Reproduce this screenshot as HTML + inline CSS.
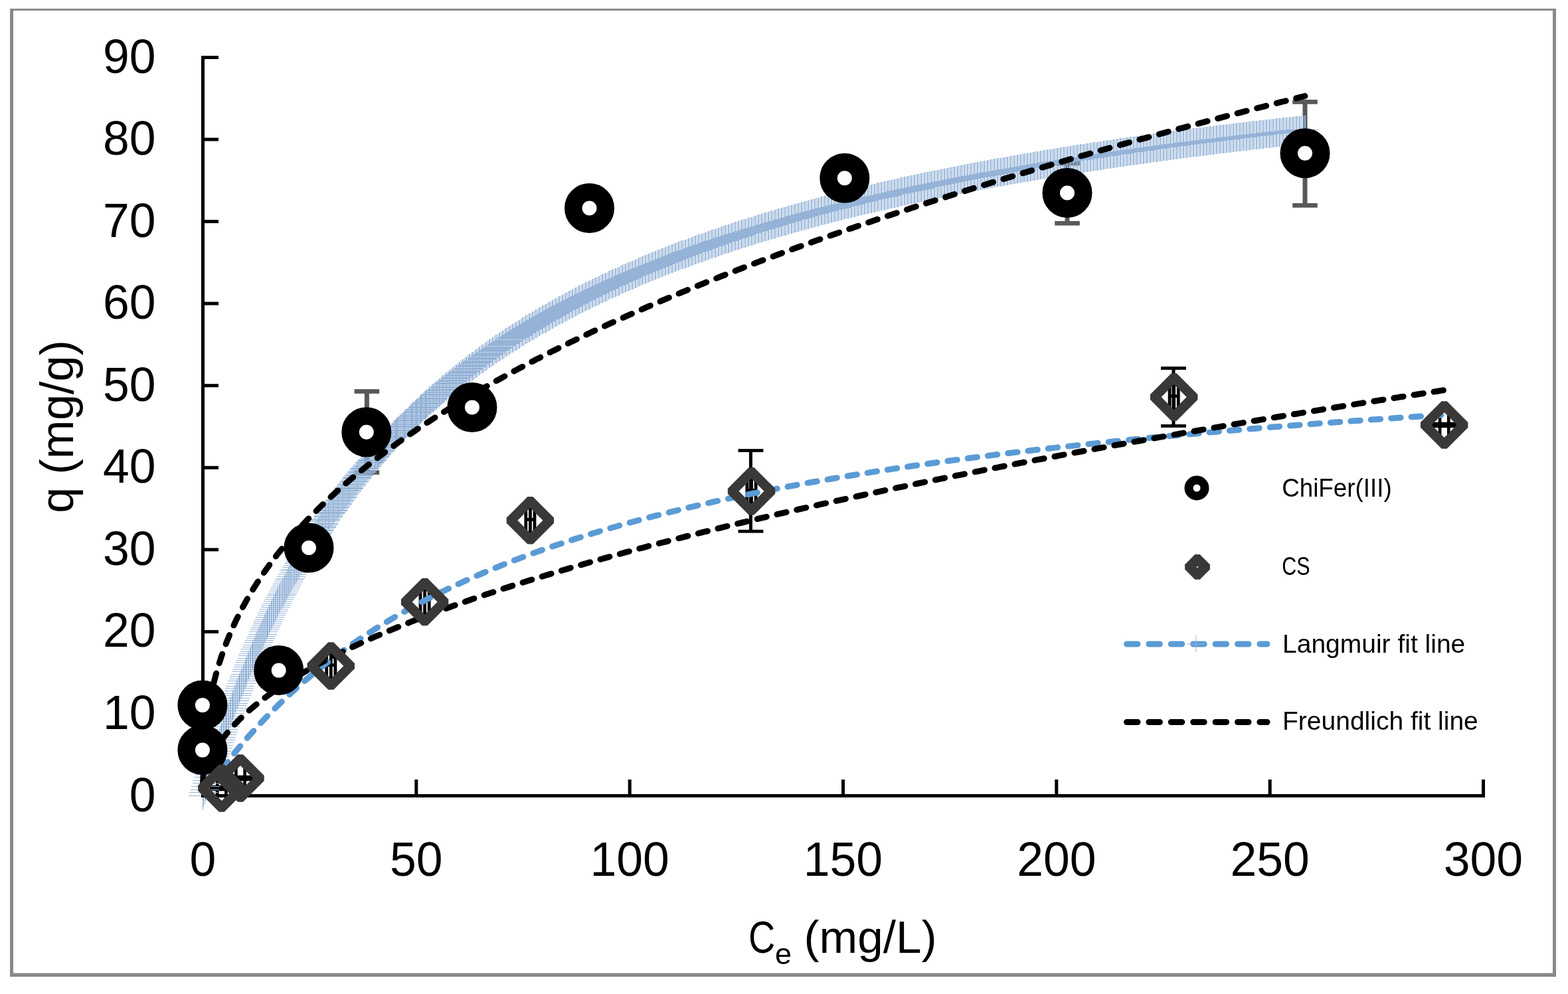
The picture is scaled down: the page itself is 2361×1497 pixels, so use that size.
<!DOCTYPE html>
<html><head><meta charset="utf-8"><title>Adsorption isotherm</title>
<style>html,body{margin:0;padding:0;background:#fff;width:2361px;height:1497px;overflow:hidden}svg{display:block}</style>
</head><body><svg width="2361" height="1497" viewBox="0 0 2361 1497"><rect x="15" y="13" width="2328" height="3" fill="#898989"/><rect x="15" y="13" width="5" height="1458" fill="#898989"/><rect x="2338" y="13" width="5" height="1458" fill="#898989"/><rect x="15" y="1465.5" width="2328" height="5.5" fill="#898989"/><path d="M552.4 589.5V711.5" stroke="#595959" stroke-width="7" fill="none"/><rect x="533.6" y="586.1" width="37.6" height="6.7" fill="#595959"/><rect x="533.6" y="708.1" width="37.6" height="6.7" fill="#595959"/><path d="M1607 246V336.3" stroke="#595959" stroke-width="7" fill="none"/><rect x="1588.2" y="242.7" width="37.6" height="6.7" fill="#595959"/><rect x="1588.2" y="332.9" width="37.6" height="6.7" fill="#595959"/><path d="M1965 153.4V309.4" stroke="#595959" stroke-width="7" fill="none"/><rect x="1946.2" y="150.1" width="37.6" height="6.7" fill="#595959"/><rect x="1946.2" y="306" width="37.6" height="6.7" fill="#595959"/><path d="M1130.4 678.5V800.2" stroke="#000" stroke-width="5" fill="none"/><rect x="1111.5" y="676.1" width="37.9" height="4.8" fill="#000"/><rect x="1111.5" y="797.8" width="37.9" height="4.8" fill="#000"/><path d="M1767 554.5V641.5" stroke="#000" stroke-width="5" fill="none"/><rect x="1748" y="552.1" width="37.9" height="4.8" fill="#000"/><rect x="1748" y="639.1" width="37.9" height="4.8" fill="#000"/><path d="M314.8 1187H352.8" stroke="#000" stroke-width="8.5" fill="none"/><path d="M327.2 1168V1206M340.4 1168V1206" stroke="#000" stroke-width="4.6" fill="none"/><path d="M343 1172H381" stroke="#000" stroke-width="8.5" fill="none"/><path d="M355.4 1153V1191M368.6 1153V1191" stroke="#000" stroke-width="4.6" fill="none"/><path d="M491.7 1001.6H504.9M491.7 984V1022M504.9 984V1022M498.3 984V1022" stroke="#000" stroke-width="4.8" fill="none"/><path d="M633 905.1H646.2M633 887.5V925.5M646.2 887.5V925.5M639.6 887.5V925.5" stroke="#000" stroke-width="4.8" fill="none"/><path d="M791.8 782.4H805M791.8 764.8V802.8M805 764.8V802.8M798.4 764.8V802.8" stroke="#000" stroke-width="4.8" fill="none"/><path d="M1124.9 738.3H1138.1M1124.9 720.7V758.7M1138.1 720.7V758.7M1131.5 720.7V758.7" stroke="#000" stroke-width="4.8" fill="none"/><path d="M1761.1 596.6H1774.3M1761.1 579V617M1774.3 579V617M1767.7 579V617" stroke="#000" stroke-width="4.8" fill="none"/><path d="M2155.7 640H2193.7" stroke="#000" stroke-width="8.5" fill="none"/><path d="M2168.1 621V659M2181.3 621V659" stroke="#000" stroke-width="4.6" fill="none"/><path d="M305 1177h1v43h-1zM306 1172h1v43h-1zM308 1168h1v43h-1zM309 1163h1v43h-1zM311 1158h1v43h-1zM312 1154h1v43h-1zM313 1149h1v43h-1zM315 1145h1v43h-1zM316 1140h1v43h-1zM318 1136h1v43h-1zM319 1131h1v43h-1zM320 1127h1v43h-1zM322 1123h1v43h-1zM323 1118h1v43h-1zM325 1114h1v43h-1zM326 1110h1v43h-1zM327 1105h1v43h-1zM329 1101h1v43h-1zM330 1097h1v43h-1zM332 1093h1v43h-1zM333 1089h1v43h-1zM334 1085h1v43h-1zM336 1081h1v43h-1zM337 1077h1v43h-1zM339 1073h1v43h-1zM340 1069h1v43h-1zM341 1065h1v43h-1zM343 1061h1v43h-1zM344 1057h1v43h-1zM346 1053h1v43h-1zM347 1049h1v43h-1zM349 1045h1v43h-1zM350 1041h1v43h-1zM351 1038h1v43h-1zM353 1034h1v43h-1zM354 1030h1v43h-1zM356 1026h1v43h-1zM357 1023h1v43h-1zM359 1019h1v43h-1zM360 1015h1v43h-1zM361 1012h1v43h-1zM363 1008h1v43h-1zM364 1004h1v43h-1zM366 1001h1v43h-1zM367 997h1v43h-1zM369 994h1v43h-1zM370 990h1v43h-1zM371 987h1v43h-1zM373 983h1v43h-1zM374 980h1v43h-1zM376 976h1v43h-1zM377 973h1v43h-1zM379 970h1v43h-1zM380 966h1v43h-1zM381 963h1v43h-1zM383 960h1v43h-1zM384 956h1v43h-1zM386 953h1v43h-1zM387 950h1v43h-1zM389 946h1v43h-1zM390 943h1v43h-1zM392 940h1v43h-1zM393 937h1v43h-1zM395 934h1v43h-1zM396 930h1v43h-1zM398 927h1v43h-1zM399 924h1v43h-1zM401 921h1v43h-1zM402 918h1v43h-1zM403 915h1v43h-1zM405 912h1v43h-1zM406 908h1v43h-1zM408 905h1v43h-1zM409 902h1v43h-1zM411 899h1v43h-1zM412 896h1v43h-1zM414 893h1v43h-1zM415 890h1v43h-1zM417 887h1v43h-1zM418 884h1v43h-1zM420 881h1v43h-1zM421 878h1v43h-1zM423 875h1v43h-1zM425 873h1v43h-1zM426 870h1v43h-1zM428 867h1v43h-1zM429 864h1v43h-1zM431 861h1v43h-1zM432 858h1v43h-1zM434 855h1v43h-1zM435 852h1v43h-1zM437 850h1v43h-1zM438 847h1v43h-1zM440 844h1v43h-1zM442 841h1v43h-1zM443 838h1v43h-1zM445 836h1v43h-1zM446 833h1v43h-1zM448 830h1v43h-1zM449 827h1v43h-1zM451 825h1v43h-1zM453 822h1v43h-1zM454 819h1v43h-1zM456 817h1v43h-1zM457 814h1v43h-1zM459 811h1v43h-1zM461 809h1v43h-1zM462 806h1v43h-1zM464 803h1v43h-1zM465 801h1v43h-1zM467 798h1v43h-1zM469 795h1v43h-1zM470 793h1v43h-1zM472 790h1v43h-1zM474 787h1v43h-1zM475 785h1v43h-1zM477 782h1v43h-1zM479 780h1v43h-1zM480 777h1v43h-1zM482 775h1v43h-1zM484 772h1v43h-1zM485 770h1v43h-1zM487 767h1v43h-1zM489 764h1v43h-1zM490 762h1v43h-1zM492 759h1v43h-1zM494 757h1v43h-1zM495 754h1v43h-1zM497 752h1v43h-1zM499 750h1v43h-1zM501 747h1v43h-1zM502 745h1v43h-1zM504 742h1v43h-1zM506 740h1v43h-1zM508 737h1v43h-1zM509 735h1v43h-1zM511 732h1v43h-1zM513 730h1v43h-1zM515 727h1v43h-1zM516 725h1v43h-1zM518 723h1v43h-1zM520 720h1v43h-1zM522 718h1v43h-1zM524 715h1v43h-1zM525 713h1v43h-1zM527 711h1v43h-1zM529 708h1v43h-1zM531 706h1v43h-1zM533 704h1v43h-1zM535 701h1v43h-1zM537 699h1v43h-1zM538 697h1v43h-1zM540 694h1v43h-1zM542 692h1v43h-1zM544 690h1v43h-1zM546 687h1v43h-1zM548 685h1v43h-1zM550 683h1v43h-1zM552 680h1v43h-1zM554 678h1v43h-1zM556 676h1v43h-1zM558 673h1v43h-1zM560 671h1v43h-1zM562 669h1v43h-1zM564 667h1v43h-1zM565 664h1v43h-1zM567 662h2v43h-2zM569 660h2v43h-2zM571 657h2v43h-2zM573 655h2v43h-2zM575 653h2v43h-2zM577 651h2v43h-2zM579 648h2v43h-2zM581 646h2v43h-2zM584 644h1v43h-1zM586 642h1v43h-1zM588 640h1v43h-1zM590 637h1v43h-1zM592 635h1v43h-1zM594 633h2v43h-2zM596 631h2v43h-2zM598 628h2v43h-2zM601 626h1v43h-1zM603 624h1v43h-1zM605 622h1v43h-1zM607 620h2v43h-2zM609 617h2v43h-2zM612 615h1v43h-1zM614 613h1v43h-1zM616 611h1v43h-1zM618 609h2v43h-2zM620 606h2v43h-2zM623 604h1v43h-1zM625 602h2v43h-2zM627 600h2v43h-2zM630 598h1v43h-1zM632 595h2v43h-2zM634 593h2v43h-2zM637 591h1v43h-1zM639 589h2v43h-2zM641 587h2v43h-2zM644 585h1v43h-1zM646 582h2v43h-2zM649 580h1v43h-1zM651 578h2v43h-2zM654 576h1v43h-1zM656 574h2v43h-2zM659 572h1v43h-1zM661 570h2v43h-2zM664 567h1v43h-1zM666 565h2v43h-2zM669 563h1v43h-1zM671 561h2v43h-2zM674 559h1v43h-1zM676 557h2v43h-2zM679 555h1v43h-1zM681 553h2v43h-2zM684 551h1v43h-1zM686 549h2v43h-2zM689 547h1v43h-1zM691 545h2v43h-2zM694 543h1v43h-1zM696 541h2v43h-2zM699 539h1v43h-1zM701 537h2v43h-2zM704 535h1v43h-1zM706 533h2v43h-2zM709 531h1v43h-1zM711 530h2v43h-2zM714 528h1v43h-1zM716 526h2v43h-2zM719 524h1v43h-1zM721 522h2v43h-2zM724 520h1v43h-1zM726 519h2v43h-2zM729 517h1v43h-1zM731 515h2v43h-2zM734 513h1v43h-1zM736 511h2v43h-2zM739 510h1v43h-1zM741 508h2v43h-2zM744 506h1v43h-1zM746 504h2v43h-2zM749 503h1v43h-1zM751 501h2v43h-2zM754 499h1v43h-1zM756 498h2v43h-2zM759 496h1v43h-1zM761 494h2v43h-2zM764 493h1v43h-1zM766 491h2v43h-2zM769 489h1v43h-1zM771 488h2v43h-2zM774 486h1v43h-1zM776 485h2v43h-2zM779 483h1v43h-1zM781 482h2v43h-2zM784 480h1v43h-1zM786 478h2v43h-2zM789 477h1v43h-1zM791 475h2v43h-2zM794 474h1v43h-1zM796 472h2v43h-2zM799 471h1v43h-1zM801 469h2v43h-2zM804 468h1v43h-1zM806 466h2v43h-2zM809 465h1v43h-1zM811 463h2v43h-2zM814 462h1v43h-1zM816 460h2v43h-2zM819 459h1v43h-1zM821 458h2v43h-2zM824 456h1v43h-1zM826 455h2v43h-2zM829 453h1v43h-1zM831 452h2v43h-2zM834 450h1v43h-1zM836 449h2v43h-2zM839 448h1v43h-1zM841 446h2v43h-2zM844 445h1v43h-1zM846 444h2v43h-2zM849 442h1v43h-1zM851 441h2v43h-2zM854 440h1v43h-1zM856 438h2v43h-2zM859 437h1v43h-1zM861 436h2v43h-2zM864 434h1v43h-1zM866 433h2v43h-2zM869 432h1v43h-1zM871 430h2v43h-2zM874 429h1v43h-1zM876 428h2v43h-2zM879 427h1v43h-1zM881 425h2v43h-2zM884 424h1v43h-1zM886 423h2v43h-2zM889 422h1v43h-1zM891 420h2v43h-2zM894 419h1v43h-1zM896 418h2v43h-2zM899 417h1v43h-1zM901 416h2v43h-2zM904 414h1v43h-1zM906 413h2v43h-2zM909 412h1v43h-1zM911 411h2v43h-2zM914 410h1v43h-1zM916 408h2v43h-2zM919 407h1v43h-1zM921 406h2v43h-2zM924 405h1v43h-1zM926 404h2v43h-2zM929 403h1v43h-1zM931 402h2v43h-2zM934 400h1v43h-1zM936 399h2v43h-2zM939 398h1v43h-1zM941 397h2v43h-2zM944 396h1v43h-1zM946 395h2v43h-2zM949 394h1v43h-1zM951 393h2v43h-2zM954 392h1v43h-1zM956 391h2v43h-2zM959 390h1v43h-1zM961 388h2v43h-2zM964 387h1v43h-1zM966 386h2v43h-2zM969 385h1v43h-1zM971 384h2v43h-2zM974 383h1v43h-1zM976 382h2v43h-2zM979 381h1v43h-1zM981 380h2v43h-2zM984 379h1v43h-1zM986 378h2v43h-2zM989 377h1v43h-1zM991 376h2v43h-2zM994 375h1v43h-1zM996 374h2v43h-2zM999 373h1v43h-1zM1001 372h2v43h-2zM1004 371h1v43h-1zM1006 370h2v43h-2zM1009 369h1v43h-1zM1011 368h2v43h-2zM1014 367h1v43h-1zM1016 366h2v43h-2zM1019 365h1v43h-1zM1021 364h2v43h-2zM1024 363h1v43h-1zM1026 362h2v43h-2zM1029 362h1v43h-1zM1031 361h2v43h-2zM1034 360h1v43h-1zM1036 359h2v43h-2zM1039 358h1v43h-1zM1041 357h2v43h-2zM1044 356h1v43h-1zM1046 355h2v43h-2zM1049 354h1v43h-1zM1051 353h2v43h-2zM1054 352h1v43h-1zM1056 352h2v43h-2zM1059 351h1v43h-1zM1061 350h2v43h-2zM1064 349h1v43h-1zM1066 348h2v43h-2zM1069 347h1v43h-1zM1071 346h2v43h-2zM1074 345h1v43h-1zM1076 345h2v43h-2zM1079 344h1v43h-1zM1081 343h2v43h-2zM1084 342h1v43h-1zM1086 341h2v43h-2zM1089 340h1v43h-1zM1091 339h2v43h-2zM1094 339h1v43h-1zM1096 338h2v43h-2zM1099 337h1v43h-1zM1101 336h2v43h-2zM1104 335h1v43h-1zM1106 334h2v43h-2zM1109 334h1v43h-1zM1111 333h2v43h-2zM1114 332h1v43h-1zM1116 331h2v43h-2zM1119 330h1v43h-1zM1121 330h2v43h-2zM1124 329h1v43h-1zM1126 328h2v43h-2zM1129 327h1v43h-1zM1131 327h2v43h-2zM1134 326h1v43h-1zM1136 325h2v43h-2zM1139 324h1v43h-1zM1141 323h2v43h-2zM1144 323h1v43h-1zM1146 322h2v43h-2zM1149 321h1v43h-1zM1151 320h2v43h-2zM1154 320h1v43h-1zM1156 319h2v43h-2zM1159 318h1v43h-1zM1161 317h2v43h-2zM1164 317h1v43h-1zM1166 316h2v43h-2zM1169 315h1v43h-1zM1171 314h2v43h-2zM1174 314h1v43h-1zM1176 313h2v43h-2zM1179 312h1v43h-1zM1181 312h2v43h-2zM1184 311h1v43h-1zM1186 310h2v43h-2zM1189 309h1v43h-1zM1191 309h2v43h-2zM1194 308h1v43h-1zM1196 307h2v43h-2zM1199 307h1v43h-1zM1201 306h2v43h-2zM1204 305h1v43h-1zM1206 304h2v43h-2zM1209 304h1v43h-1zM1211 303h2v43h-2zM1214 302h1v43h-1zM1216 302h2v43h-2zM1219 301h1v43h-1zM1221 300h2v43h-2zM1224 300h1v43h-1zM1226 299h2v43h-2zM1229 298h1v43h-1zM1231 298h2v43h-2zM1234 297h1v43h-1zM1236 296h2v43h-2zM1239 296h1v43h-1zM1241 295h2v43h-2zM1244 294h1v43h-1zM1246 294h2v43h-2zM1249 293h1v43h-1zM1251 292h2v43h-2zM1254 292h1v43h-1zM1256 291h2v43h-2zM1259 291h1v43h-1zM1261 290h2v43h-2zM1264 289h1v43h-1zM1266 289h2v43h-2zM1269 288h1v43h-1zM1271 287h2v43h-2zM1274 287h1v43h-1zM1276 286h2v43h-2zM1279 286h1v43h-1zM1281 285h2v43h-2zM1284 284h1v43h-1zM1286 284h2v43h-2zM1289 283h1v43h-1zM1291 282h2v43h-2zM1294 282h1v43h-1zM1296 281h2v43h-2zM1299 281h1v43h-1zM1301 280h2v43h-2zM1304 279h1v43h-1zM1306 279h2v43h-2zM1309 278h1v43h-1zM1311 278h2v43h-2zM1314 277h1v43h-1zM1316 277h2v43h-2zM1319 276h1v43h-1zM1321 275h2v43h-2zM1324 275h1v43h-1zM1326 274h2v43h-2zM1329 274h1v43h-1zM1331 273h2v43h-2zM1334 273h1v43h-1zM1336 272h2v43h-2zM1339 271h1v43h-1zM1341 271h2v43h-2zM1344 270h1v43h-1zM1346 270h2v43h-2zM1349 269h1v43h-1zM1351 269h2v43h-2zM1354 268h1v43h-1zM1356 267h2v43h-2zM1359 267h1v43h-1zM1361 266h2v43h-2zM1364 266h1v43h-1zM1366 265h2v43h-2zM1369 265h1v43h-1zM1371 264h2v43h-2zM1374 264h1v43h-1zM1376 263h2v43h-2zM1379 263h1v43h-1zM1381 262h2v43h-2zM1384 262h1v43h-1zM1386 261h2v43h-2zM1389 260h1v43h-1zM1391 260h2v43h-2zM1394 259h1v43h-1zM1396 259h2v43h-2zM1399 258h1v43h-1zM1401 258h2v43h-2zM1404 257h1v43h-1zM1406 257h2v43h-2zM1409 256h1v43h-1zM1411 256h2v43h-2zM1414 255h1v43h-1zM1416 255h2v43h-2zM1419 254h1v43h-1zM1421 254h2v43h-2zM1424 253h1v43h-1zM1426 253h2v43h-2zM1429 252h1v43h-1zM1431 252h2v43h-2zM1434 251h1v43h-1zM1436 251h2v43h-2zM1439 250h1v43h-1zM1441 250h2v43h-2zM1444 249h1v43h-1zM1446 249h2v43h-2zM1449 248h1v43h-1zM1451 248h2v43h-2zM1454 247h1v43h-1zM1456 247h2v43h-2zM1459 246h1v43h-1zM1461 246h2v43h-2zM1464 245h1v43h-1zM1466 245h2v43h-2zM1469 244h1v43h-1zM1471 244h2v43h-2zM1474 244h1v43h-1zM1476 243h2v43h-2zM1479 243h1v43h-1zM1481 242h2v43h-2zM1484 242h1v43h-1zM1486 241h2v43h-2zM1489 241h1v43h-1zM1491 240h2v43h-2zM1494 240h1v43h-1zM1496 239h2v43h-2zM1499 239h1v43h-1zM1501 238h2v43h-2zM1504 238h1v43h-1zM1506 238h2v43h-2zM1509 237h1v43h-1zM1511 237h2v43h-2zM1514 236h1v43h-1zM1516 236h2v43h-2zM1519 235h1v43h-1zM1521 235h2v43h-2zM1524 234h1v43h-1zM1526 234h2v43h-2zM1529 234h1v43h-1zM1531 233h2v43h-2zM1534 233h1v43h-1zM1536 232h2v43h-2zM1539 232h1v43h-1zM1541 231h2v43h-2zM1544 231h1v43h-1zM1546 231h2v43h-2zM1549 230h1v43h-1zM1551 230h2v43h-2zM1554 229h1v43h-1zM1556 229h2v43h-2zM1559 228h1v43h-1zM1561 228h2v43h-2zM1564 228h1v43h-1zM1566 227h2v43h-2zM1569 227h1v43h-1zM1571 226h2v43h-2zM1574 226h1v43h-1zM1576 225h2v43h-2zM1579 225h1v43h-1zM1581 225h2v43h-2zM1584 224h1v43h-1zM1586 224h2v43h-2zM1589 223h1v43h-1zM1591 223h2v43h-2zM1594 223h1v43h-1zM1596 222h2v43h-2zM1599 222h1v43h-1zM1601 221h2v43h-2zM1604 221h1v43h-1zM1606 221h2v43h-2zM1609 220h1v43h-1zM1611 220h2v43h-2zM1614 219h1v43h-1zM1616 219h2v43h-2zM1619 219h1v43h-1zM1621 218h2v43h-2zM1624 218h1v43h-1zM1626 217h2v43h-2zM1629 217h1v43h-1zM1631 217h2v43h-2zM1634 216h1v43h-1zM1636 216h2v43h-2zM1639 216h1v43h-1zM1641 215h2v43h-2zM1644 215h1v43h-1zM1646 214h2v43h-2zM1649 214h1v43h-1zM1651 214h2v43h-2zM1654 213h1v43h-1zM1656 213h2v43h-2zM1659 213h1v43h-1zM1661 212h2v43h-2zM1664 212h1v43h-1zM1666 211h2v43h-2zM1669 211h1v43h-1zM1671 211h2v43h-2zM1674 210h1v43h-1zM1676 210h2v43h-2zM1679 210h1v43h-1zM1681 209h2v43h-2zM1684 209h1v43h-1zM1686 208h2v43h-2zM1689 208h1v43h-1zM1691 208h2v43h-2zM1694 207h1v43h-1zM1696 207h2v43h-2zM1699 207h1v43h-1zM1701 206h2v43h-2zM1704 206h1v43h-1zM1706 206h2v43h-2zM1709 205h1v43h-1zM1711 205h2v43h-2zM1714 205h1v43h-1zM1716 204h2v43h-2zM1719 204h1v43h-1zM1721 204h2v43h-2zM1724 203h1v43h-1zM1726 203h2v43h-2zM1729 202h1v43h-1zM1731 202h2v43h-2zM1734 202h1v43h-1zM1736 201h2v43h-2zM1739 201h1v43h-1zM1741 201h2v43h-2zM1744 200h1v43h-1zM1746 200h2v43h-2zM1749 200h1v43h-1zM1751 199h2v43h-2zM1754 199h1v43h-1zM1756 199h2v43h-2zM1759 198h1v43h-1zM1761 198h2v43h-2zM1764 198h1v43h-1zM1766 197h2v43h-2zM1769 197h1v43h-1zM1771 197h2v43h-2zM1774 196h1v43h-1zM1776 196h2v43h-2zM1779 196h1v43h-1zM1781 195h2v43h-2zM1784 195h1v43h-1zM1786 195h2v43h-2zM1789 194h1v43h-1zM1791 194h2v43h-2zM1794 194h1v43h-1zM1796 193h2v43h-2zM1799 193h1v43h-1zM1801 193h2v43h-2zM1804 193h1v43h-1zM1806 192h2v43h-2zM1809 192h1v43h-1zM1811 192h2v43h-2zM1814 191h1v43h-1zM1816 191h2v43h-2zM1819 191h1v43h-1zM1821 190h2v43h-2zM1824 190h1v43h-1zM1826 190h2v43h-2zM1829 189h1v43h-1zM1831 189h2v43h-2zM1834 189h1v43h-1zM1836 188h2v43h-2zM1839 188h1v43h-1zM1841 188h2v43h-2zM1844 188h1v43h-1zM1846 187h2v43h-2zM1849 187h1v43h-1zM1851 187h2v43h-2zM1854 186h1v43h-1zM1856 186h2v43h-2zM1859 186h1v43h-1zM1861 185h2v43h-2zM1864 185h1v43h-1zM1866 185h2v43h-2zM1869 185h1v43h-1zM1871 184h2v43h-2zM1874 184h1v43h-1zM1876 184h2v43h-2zM1879 183h1v43h-1zM1881 183h2v43h-2zM1884 183h1v43h-1zM1886 182h2v43h-2zM1889 182h1v43h-1zM1891 182h2v43h-2zM1894 182h1v43h-1zM1896 181h2v43h-2zM1899 181h1v43h-1zM1901 181h2v43h-2zM1904 180h1v43h-1zM1906 180h2v43h-2zM1909 180h1v43h-1zM1911 180h2v43h-2zM1914 179h1v43h-1zM1916 179h2v43h-2zM1919 179h1v43h-1zM1921 178h2v43h-2zM1924 178h1v43h-1zM1926 178h2v43h-2zM1929 178h1v43h-1zM1931 177h2v43h-2zM1934 177h1v43h-1zM1936 177h2v43h-2zM1939 177h1v43h-1zM1941 176h2v43h-2zM1944 176h1v43h-1zM1946 176h2v43h-2zM1949 175h1v43h-1zM1951 175h2v43h-2zM1954 175h1v43h-1zM1956 175h2v43h-2zM1959 174h1v43h-1zM1961 174h2v43h-2zM1964 174h1v43h-1zM1964 174h2v43h-2zM284 1198h43v1h-43zM285 1193h43v1h-43zM287 1189h43v1h-43zM288 1184h43v1h-43zM290 1179h43v1h-43zM291 1175h43v1h-43zM292 1170h43v1h-43zM294 1166h43v1h-43zM295 1161h43v1h-43zM297 1157h43v1h-43zM298 1152h43v1h-43zM299 1148h43v1h-43zM301 1144h43v1h-43zM302 1139h43v1h-43zM304 1135h43v1h-43zM305 1131h43v1h-43zM306 1126h43v1h-43zM308 1122h43v1h-43zM309 1118h43v1h-43zM311 1114h43v1h-43zM312 1110h43v1h-43zM313 1106h43v1h-43zM315 1102h43v1h-43zM316 1098h43v1h-43zM318 1094h43v1h-43zM319 1090h43v1h-43zM320 1086h43v1h-43zM322 1082h43v1h-43zM323 1078h43v1h-43zM325 1074h43v1h-43zM326 1070h43v1h-43zM328 1066h43v1h-43zM329 1062h43v1h-43zM330 1059h43v1h-43zM332 1055h43v1h-43zM333 1051h43v1h-43zM335 1047h43v1h-43zM336 1044h43v1h-43zM338 1040h43v1h-43zM339 1036h43v1h-43zM340 1033h43v1h-43zM342 1029h43v1h-43zM343 1025h43v1h-43zM345 1022h43v1h-43zM346 1018h43v1h-43zM348 1015h43v1h-43zM349 1011h43v1h-43zM350 1008h43v1h-43zM352 1004h43v1h-43zM353 1001h43v1h-43zM355 997h43v1h-43zM356 994h43v1h-43zM358 991h43v1h-43zM359 987h43v1h-43zM360 984h43v1h-43zM362 981h43v1h-43zM363 977h43v1h-43zM365 974h43v1h-43zM366 971h43v1h-43zM368 967h43v1h-43zM369 964h43v1h-43zM371 961h43v1h-43zM372 958h43v1h-43zM374 955h43v1h-43zM375 951h43v1h-43zM377 948h43v1h-43zM378 945h43v1h-43zM380 942h43v1h-43zM381 939h43v1h-43zM382 936h43v1h-43zM384 933h43v1h-43zM385 929h43v1h-43zM387 926h43v1h-43zM388 923h43v1h-43zM390 920h43v1h-43zM391 917h43v1h-43zM393 914h43v1h-43zM394 911h43v1h-43zM396 908h43v1h-43zM397 905h43v1h-43zM399 902h43v1h-43zM400 899h43v1h-43zM402 896h43v1h-43zM404 894h43v1h-43zM405 891h43v1h-43zM407 888h43v1h-43zM408 885h43v1h-43zM410 882h43v1h-43zM411 879h43v1h-43zM413 876h43v1h-43zM414 873h43v1h-43zM416 871h43v1h-43zM417 868h43v1h-43zM419 865h43v1h-43zM421 862h43v1h-43zM422 859h43v1h-43zM424 857h43v1h-43zM425 854h43v1h-43zM427 851h43v1h-43zM428 848h43v1h-43zM430 846h43v1h-43zM432 843h43v1h-43zM433 840h43v1h-43zM435 838h43v1h-43zM436 835h43v1h-43zM438 832h43v1h-43zM440 830h43v1h-43zM441 827h43v1h-43zM443 824h43v1h-43zM444 822h43v1h-43zM446 819h43v1h-43zM448 816h43v1h-43zM449 814h43v1h-43zM451 811h43v1h-43zM453 808h43v2h-43zM454 806h43v1h-43zM456 803h43v2h-43zM458 801h43v1h-43zM459 798h43v2h-43zM461 796h43v1h-43zM463 793h43v2h-43zM464 791h43v1h-43zM466 788h43v2h-43zM468 785h43v1h-43zM469 782h43v2h-43zM471 780h43v1h-43zM473 777h43v2h-43zM474 775h43v1h-43zM476 772h43v2h-43zM478 771h43v1h-43zM480 768h43v2h-43zM481 766h43v1h-43zM483 763h43v2h-43zM485 761h43v1h-43zM487 758h43v2h-43zM488 756h43v1h-43zM490 753h43v2h-43zM492 751h43v1h-43zM494 748h43v2h-43zM495 746h43v1h-43zM497 743h43v2h-43zM499 741h43v1h-43zM501 738h43v2h-43zM503 736h43v1h-43zM504 734h43v2h-43zM506 732h43v1h-43zM508 729h43v2h-43zM510 727h43v1h-43zM512 724h43v2h-43zM514 722h43v1h-43zM516 719h43v2h-43zM517 718h43v1h-43zM519 715h43v2h-43zM521 713h43v1h-43zM523 710h43v2h-43zM525 708h43v1h-43zM527 705h43v2h-43zM529 704h43v1h-43zM531 701h43v2h-43zM533 699h43v1h-43zM535 696h43v2h-43zM537 694h43v1h-43zM539 692h43v2h-43zM541 690h43v1h-43zM543 687h43v2h-43zM544 685h43v1h-43zM546 683h43v2h-43zM549 681h43v1h-43zM551 678h43v2h-43zM553 676h43v1h-43zM555 673h43v2h-43zM557 672h43v1h-43zM559 669h43v2h-43zM561 667h43v1h-43zM563 664h43v2h-43zM565 663h43v1h-43zM567 660h43v2h-43zM569 658h43v1h-43zM571 656h43v2h-43zM573 654h43v1h-43zM575 651h43v2h-43zM578 649h43v1h-43zM580 647h43v2h-43zM582 645h43v1h-43zM584 642h43v2h-43zM586 641h43v1h-43zM589 638h43v2h-43zM591 636h43v1h-43zM593 633h43v2h-43zM595 632h43v1h-43zM597 629h43v2h-43zM600 627h43v1h-43zM602 625h43v2h-43zM604 623h43v1h-43zM607 620h43v2h-43zM609 619h43v1h-43zM611 616h43v2h-43zM614 614h43v1h-43zM616 612h43v2h-43zM618 610h43v1h-43zM621 607h43v2h-43zM623 606h43v1h-43zM626 603h43v2h-43zM628 601h43v1h-43zM630 599h43v2h-43zM633 597h43v1h-43zM635 594h43v2h-43zM638 593h43v1h-43zM640 590h43v2h-43zM643 588h43v1h-43zM645 586h43v2h-43zM648 584h43v1h-43zM650 582h43v2h-43zM653 580h43v1h-43zM655 577h43v2h-43zM658 576h43v1h-43zM660 573h43v2h-43zM663 572h43v1h-43zM665 569h43v2h-43zM668 568h43v1h-43zM670 565h43v2h-43zM673 564h43v1h-43zM675 561h43v2h-43zM678 560h43v1h-43zM680 558h43v2h-43zM683 556h43v1h-43zM685 554h43v2h-43zM688 552h43v1h-43zM690 550h43v2h-43zM693 549h43v1h-43zM695 546h43v2h-43zM698 545h43v1h-43zM700 543h43v2h-43zM703 541h43v1h-43zM705 539h43v2h-43zM708 538h43v1h-43zM710 535h43v2h-43zM713 534h43v1h-43zM715 532h43v2h-43zM718 531h43v1h-43zM720 528h43v2h-43zM723 527h43v1h-43zM725 525h43v2h-43zM728 524h43v1h-43zM730 522h43v2h-43zM733 520h43v1h-43zM735 518h43v2h-43zM738 517h43v1h-43zM740 515h43v2h-43zM743 514h43v1h-43zM745 512h43v2h-43zM748 510h43v1h-43zM750 508h43v2h-43zM753 507h43v2h-43zM755 505h43v2h-43zM758 504h43v2h-43zM760 502h43v2h-43zM763 500h43v2h-43zM765 499h43v2h-43zM768 497h43v2h-43zM770 496h43v2h-43zM773 494h43v2h-43zM775 493h43v2h-43zM778 491h43v2h-43zM780 490h43v2h-43zM783 488h43v2h-43zM785 487h43v2h-43zM788 485h43v2h-43zM790 484h43v2h-43zM793 482h43v2h-43zM795 481h43v2h-43zM798 479h43v2h-43zM800 478h43v2h-43zM803 477h43v2h-43zM805 475h43v2h-43zM808 474h43v2h-43zM810 472h43v2h-43zM813 471h43v2h-43zM815 470h43v2h-43zM818 468h43v2h-43zM820 467h43v2h-43zM823 465h43v2h-43zM825 464h43v2h-43zM828 463h43v2h-43zM830 461h43v2h-43zM833 460h43v2h-43zM835 459h43v2h-43zM838 457h43v2h-43zM840 456h43v2h-43zM843 455h43v2h-43zM845 454h43v2h-43zM848 452h43v2h-43zM850 451h43v2h-43zM853 450h43v2h-43zM855 448h43v2h-43zM858 447h43v2h-43zM860 446h43v2h-43zM863 445h43v2h-43zM865 443h43v2h-43zM868 442h43v2h-43zM870 441h43v2h-43zM873 440h43v2h-43zM875 439h43v2h-43zM878 437h43v2h-43zM880 436h43v2h-43zM883 435h43v2h-43zM885 434h43v2h-43zM888 433h43v2h-43zM890 431h43v2h-43zM893 430h43v2h-43zM895 429h43v2h-43zM898 428h43v2h-43zM900 427h43v2h-43zM903 426h43v2h-43zM905 424h43v2h-43zM908 423h43v2h-43zM910 422h43v2h-43zM913 421h43v2h-43zM915 420h43v2h-43zM918 419h43v2h-43zM920 418h43v2h-43zM923 417h43v2h-43zM925 415h43v2h-43zM928 414h43v2h-43zM930 413h43v2h-43zM933 412h43v2h-43zM935 411h43v2h-43zM938 410h43v2h-43zM940 409h43v2h-43zM943 408h43v2h-43zM945 407h43v2h-43zM948 406h43v2h-43zM950 405h43v2h-43zM953 404h43v2h-43zM955 403h43v2h-43zM958 402h43v2h-43zM960 401h43v2h-43zM963 400h43v2h-43zM965 399h43v2h-43zM968 398h43v2h-43zM970 397h43v2h-43zM973 396h43v2h-43zM975 395h43v2h-43zM978 394h43v2h-43zM980 393h43v2h-43zM983 392h43v2h-43zM985 391h43v2h-43zM988 390h43v2h-43zM990 389h43v2h-43zM993 388h43v2h-43zM995 387h43v2h-43zM998 386h43v2h-43zM1000 385h43v2h-43zM1003 384h43v2h-43zM1005 383h43v2h-43zM1008 382h43v2h-43zM1010 381h43v2h-43zM1013 380h43v2h-43zM1015 379h43v2h-43zM1018 378h43v2h-43zM1020 377h43v2h-43zM1023 377h43v2h-43zM1025 376h43v2h-43zM1028 375h43v2h-43zM1030 374h43v2h-43zM1033 373h43v2h-43zM1035 372h43v2h-43zM1038 371h43v2h-43zM1040 370h43v2h-43zM1043 369h43v2h-43zM1045 368h43v2h-43zM1048 368h43v2h-43zM1050 367h43v2h-43zM1053 366h43v2h-43zM1055 365h43v2h-43zM1058 364h43v2h-43zM1060 363h43v2h-43zM1063 362h43v2h-43zM1065 362h43v2h-43zM1068 361h43v2h-43zM1070 360h43v2h-43zM1073 359h43v2h-43zM1075 358h43v2h-43zM1078 357h43v2h-43zM1080 357h43v2h-43zM1083 356h43v2h-43zM1085 355h43v2h-43zM1088 354h43v2h-43zM1090 353h43v2h-43zM1093 353h43v2h-43zM1095 352h43v1h-43zM1098 351h43v1h-43zM1100 351h43v1h-43zM1103 350h43v1h-43zM1105 349h43v1h-43zM1108 348h43v1h-43zM1110 348h43v1h-43zM1113 347h43v1h-43zM1115 346h43v1h-43zM1118 345h43v1h-43zM1120 344h43v1h-43zM1123 344h43v1h-43zM1125 343h43v1h-43zM1128 342h43v1h-43zM1130 341h43v1h-43zM1133 341h43v1h-43zM1135 340h43v1h-43zM1138 339h43v1h-43zM1140 338h43v1h-43zM1143 338h43v1h-43zM1145 337h43v1h-43zM1148 336h43v1h-43zM1150 335h43v1h-43zM1153 335h43v1h-43zM1155 334h43v1h-43zM1158 333h43v1h-43zM1160 333h43v1h-43zM1163 332h43v1h-43zM1165 331h43v1h-43zM1168 330h43v1h-43zM1170 330h43v1h-43zM1173 329h43v1h-43zM1175 328h43v1h-43zM1178 328h43v1h-43zM1180 327h43v1h-43zM1183 326h43v1h-43zM1185 325h43v1h-43zM1188 325h43v1h-43zM1190 324h43v1h-43zM1193 323h43v1h-43zM1195 323h43v1h-43zM1198 322h43v1h-43zM1200 321h43v1h-43zM1203 321h43v1h-43zM1205 320h43v1h-43zM1208 319h43v1h-43zM1210 319h43v1h-43zM1213 318h43v1h-43zM1215 317h43v1h-43zM1218 317h43v1h-43zM1220 316h43v1h-43zM1223 315h43v1h-43zM1225 315h43v1h-43zM1228 314h43v1h-43zM1230 313h43v1h-43zM1233 313h43v1h-43zM1235 312h43v1h-43zM1238 312h43v1h-43zM1240 311h43v1h-43zM1243 310h43v1h-43zM1245 310h43v1h-43zM1248 309h43v1h-43zM1250 308h43v1h-43zM1253 308h43v1h-43zM1255 307h43v1h-43zM1258 307h43v1h-43zM1260 306h43v1h-43zM1263 305h43v1h-43zM1265 305h43v1h-43zM1268 304h43v1h-43zM1270 303h43v1h-43zM1273 303h43v1h-43zM1275 302h43v1h-43zM1278 302h43v1h-43zM1280 301h43v1h-43zM1283 300h43v1h-43zM1285 300h43v1h-43zM1288 299h43v1h-43zM1290 299h43v1h-43zM1293 298h43v1h-43zM1295 298h43v1h-43zM1298 297h43v1h-43zM1300 296h43v1h-43zM1303 296h43v1h-43zM1305 295h43v1h-43zM1308 295h43v1h-43zM1310 294h43v1h-43zM1313 294h43v1h-43zM1315 293h43v1h-43zM1318 292h43v1h-43zM1320 292h43v1h-43zM1323 291h43v1h-43zM1325 291h43v1h-43zM1328 290h43v1h-43zM1330 290h43v1h-43zM1333 289h43v1h-43zM1335 288h43v1h-43zM1338 288h43v1h-43zM1340 287h43v1h-43zM1343 287h43v1h-43zM1345 286h43v1h-43zM1348 286h43v1h-43zM1350 285h43v1h-43zM1353 285h43v1h-43zM1355 284h43v1h-43zM1358 284h43v1h-43zM1360 283h43v1h-43zM1363 283h43v1h-43zM1365 282h43v1h-43zM1368 281h43v1h-43zM1370 281h43v1h-43zM1373 280h43v1h-43zM1375 280h43v1h-43zM1378 279h43v1h-43zM1380 279h43v1h-43zM1383 278h43v1h-43zM1385 278h43v1h-43zM1388 277h43v1h-43zM1390 277h43v1h-43zM1393 276h43v1h-43zM1395 276h43v1h-43zM1398 275h43v1h-43zM1400 275h43v1h-43zM1403 274h43v1h-43zM1405 274h43v1h-43zM1408 273h43v1h-43zM1410 273h43v1h-43zM1413 272h43v1h-43zM1415 272h43v1h-43zM1418 271h43v1h-43zM1420 271h43v1h-43zM1423 270h43v1h-43zM1425 270h43v1h-43zM1428 269h43v1h-43zM1430 269h43v1h-43zM1433 268h43v1h-43zM1435 268h43v1h-43zM1438 267h43v1h-43zM1440 267h43v1h-43zM1443 266h43v1h-43zM1445 266h43v1h-43zM1448 265h43v1h-43zM1450 265h43v1h-43zM1453 265h43v1h-43zM1455 264h43v1h-43zM1458 264h43v1h-43zM1460 263h43v1h-43zM1463 263h43v1h-43zM1465 262h43v1h-43zM1468 262h43v1h-43zM1470 261h43v1h-43zM1473 261h43v1h-43zM1475 260h43v1h-43zM1478 260h43v1h-43zM1480 259h43v1h-43zM1483 259h43v1h-43zM1485 259h43v1h-43zM1488 258h43v1h-43zM1490 258h43v1h-43zM1493 257h43v1h-43zM1495 257h43v1h-43zM1498 256h43v1h-43zM1500 256h43v1h-43zM1503 255h43v1h-43zM1505 255h43v1h-43zM1508 255h43v1h-43zM1510 254h43v1h-43zM1513 254h43v1h-43zM1515 253h43v1h-43zM1518 253h43v1h-43zM1520 252h43v1h-43zM1523 252h43v1h-43zM1525 252h43v1h-43zM1528 251h43v1h-43zM1530 251h43v1h-43zM1533 250h43v1h-43zM1535 250h43v1h-43zM1538 249h43v1h-43zM1540 249h43v1h-43zM1543 249h43v1h-43zM1545 248h43v1h-43zM1548 248h43v1h-43zM1550 247h43v1h-43zM1553 247h43v1h-43zM1555 246h43v1h-43zM1558 246h43v1h-43zM1560 246h43v1h-43zM1563 245h43v1h-43zM1565 245h43v1h-43zM1568 244h43v1h-43zM1570 244h43v1h-43zM1573 244h43v1h-43zM1575 243h43v1h-43zM1578 243h43v1h-43zM1580 242h43v1h-43zM1583 242h43v1h-43zM1585 242h43v1h-43zM1588 241h43v1h-43zM1590 241h43v1h-43zM1593 240h43v1h-43zM1595 240h43v1h-43zM1598 240h43v1h-43zM1600 239h43v1h-43zM1603 239h43v1h-43zM1605 238h43v1h-43zM1608 238h43v1h-43zM1610 238h43v1h-43zM1613 237h43v1h-43zM1615 237h43v1h-43zM1618 237h43v1h-43zM1620 236h43v1h-43zM1623 236h43v1h-43zM1625 235h43v1h-43zM1628 235h43v1h-43zM1630 235h43v1h-43zM1633 234h43v1h-43zM1635 234h43v1h-43zM1638 234h43v1h-43zM1640 233h43v1h-43zM1643 233h43v1h-43zM1645 232h43v1h-43zM1648 232h43v1h-43zM1650 232h43v1h-43zM1653 231h43v1h-43zM1655 231h43v1h-43zM1658 231h43v1h-43zM1660 230h43v1h-43zM1663 230h43v1h-43zM1665 229h43v1h-43zM1668 229h43v1h-43zM1670 229h43v1h-43zM1673 228h43v1h-43zM1675 228h43v1h-43zM1678 228h43v1h-43zM1680 227h43v1h-43zM1683 227h43v1h-43zM1685 227h43v1h-43zM1688 226h43v1h-43zM1690 226h43v1h-43zM1693 226h43v1h-43zM1695 225h43v1h-43zM1698 225h43v1h-43zM1700 225h43v1h-43zM1703 224h43v1h-43zM1705 224h43v1h-43zM1708 223h43v1h-43zM1710 223h43v1h-43zM1713 223h43v1h-43zM1715 222h43v1h-43zM1718 222h43v1h-43zM1720 222h43v1h-43zM1723 221h43v1h-43zM1725 221h43v1h-43zM1728 221h43v1h-43zM1730 220h43v1h-43zM1733 220h43v1h-43zM1735 220h43v1h-43zM1738 219h43v1h-43zM1740 219h43v1h-43zM1743 219h43v1h-43zM1745 218h43v1h-43zM1748 218h43v1h-43zM1750 218h43v1h-43zM1753 217h43v1h-43zM1755 217h43v1h-43zM1758 217h43v1h-43zM1760 216h43v1h-43zM1763 216h43v1h-43zM1765 216h43v1h-43zM1768 215h43v1h-43zM1770 215h43v1h-43zM1773 215h43v1h-43zM1775 214h43v1h-43zM1778 214h43v1h-43zM1780 214h43v1h-43zM1783 214h43v1h-43zM1785 213h43v1h-43zM1788 213h43v1h-43zM1790 213h43v1h-43zM1793 212h43v1h-43zM1795 212h43v1h-43zM1798 212h43v1h-43zM1800 211h43v1h-43zM1803 211h43v1h-43zM1805 211h43v1h-43zM1808 210h43v1h-43zM1810 210h43v1h-43zM1813 210h43v1h-43zM1815 209h43v1h-43zM1818 209h43v1h-43zM1820 209h43v1h-43zM1823 209h43v1h-43zM1825 208h43v1h-43zM1828 208h43v1h-43zM1830 208h43v1h-43zM1833 207h43v1h-43zM1835 207h43v1h-43zM1838 207h43v1h-43zM1840 206h43v1h-43zM1843 206h43v1h-43zM1845 206h43v1h-43zM1848 206h43v1h-43zM1850 205h43v1h-43zM1853 205h43v1h-43zM1855 205h43v1h-43zM1858 204h43v1h-43zM1860 204h43v1h-43zM1863 204h43v1h-43zM1865 203h43v1h-43zM1868 203h43v1h-43zM1870 203h43v1h-43zM1873 203h43v1h-43zM1875 202h43v1h-43zM1878 202h43v1h-43zM1880 202h43v1h-43zM1883 201h43v1h-43zM1885 201h43v1h-43zM1888 201h43v1h-43zM1890 201h43v1h-43zM1893 200h43v1h-43zM1895 200h43v1h-43zM1898 200h43v1h-43zM1900 199h43v1h-43zM1903 199h43v1h-43zM1905 199h43v1h-43zM1908 199h43v1h-43zM1910 198h43v1h-43zM1913 198h43v1h-43zM1915 198h43v1h-43zM1918 198h43v1h-43zM1920 197h43v1h-43zM1923 197h43v1h-43zM1925 197h43v1h-43zM1928 196h43v1h-43zM1930 196h43v1h-43zM1933 196h43v1h-43zM1935 196h43v1h-43zM1938 195h43v1h-43zM1940 195h43v1h-43zM1943 195h43v1h-43zM1943 195h43v1h-43z" fill="#95B3D7" shape-rendering="crispEdges"/><path d="M305.6,1179.4 L308.3,1113.5 L311.1,1087.3 L313.9,1068.1 L316.6,1052.5 L319.4,1039.2 L322.2,1027.3 L324.9,1016.6 L327.7,1006.8 L330.5,997.7 L333.2,989.2 L336.0,981.2 L338.8,973.6 L341.5,966.4 L344.3,959.5 L347.0,952.9 L349.8,946.6 L352.6,940.5 L355.3,934.6 L358.1,928.9 L360.9,923.4 L363.6,918.0 L366.4,912.8 L369.2,907.8 L371.9,902.9 L374.7,898.1 L377.5,893.4 L380.2,888.8 L383.0,884.3 L385.8,879.9 L388.5,875.7 L391.3,871.4 L394.1,867.3 L396.8,863.3 L399.6,859.3 L402.4,855.4 L405.1,851.6 L407.9,847.8 L410.7,844.1 L413.4,840.4 L416.2,836.8 L419.0,833.3 L421.7,829.8 L424.5,826.4 L427.2,823.0 L430.0,819.6 L432.8,816.3 L435.5,813.0 L438.3,809.8 L441.1,806.7 L443.8,803.5 L446.6,800.4 L449.4,797.4 L452.1,794.3 L454.9,791.3 L457.7,788.4 L460.4,785.4 L463.2,782.5 L466.0,779.7 L468.7,776.8 L471.5,774.0 L474.3,771.3 L477.0,768.5 L479.8,765.8 L482.6,763.1 L485.3,760.4 L488.1,757.8 L490.9,755.1 L493.6,752.5 L496.4,750.0 L499.2,747.4 L501.9,744.9 L504.7,742.4 L507.4,739.9 L510.2,737.4 L513.0,734.9 L515.7,732.5 L518.5,730.1 L521.3,727.7 L524.0,725.3 L526.8,723.0 L529.6,720.6 L532.3,718.3 L535.1,716.0 L537.9,713.7 L540.6,711.5 L543.4,709.2 L546.2,707.0 L548.9,704.7 L551.7,702.5 L554.5,700.3 L557.2,698.2 L560.0,696.0 L562.8,693.8 L565.5,691.7 L568.3,689.6 L571.1,687.5 L573.8,685.4 L576.6,683.3 L579.4,681.2 L582.1,679.2 L584.9,677.1 L587.6,675.1 L590.4,673.1 L593.2,671.1 L595.9,669.1 L598.7,667.1 L601.5,665.1 L604.2,663.1 L607.0,661.2 L609.8,659.2 L612.5,657.3 L615.3,655.4 L618.1,653.5 L620.8,651.6 L623.6,649.7 L626.4,647.8 L629.1,645.9 L631.9,644.1 L634.7,642.2 L637.4,640.4 L640.2,638.6 L643.0,636.7 L645.7,634.9 L648.5,633.1 L651.3,631.3 L654.0,629.5 L656.8,627.8 L659.6,626.0 L662.3,624.2 L665.1,622.5 L667.8,620.7 L670.6,619.0 L673.4,617.3 L676.1,615.5 L678.9,613.8 L681.7,612.1 L684.4,610.4 L687.2,608.7 L690.0,607.0 L692.7,605.4 L695.5,603.7 L698.3,602.0 L701.0,600.4 L703.8,598.7 L706.6,597.1 L709.3,595.5 L712.1,593.8 L714.9,592.2 L717.6,590.6 L720.4,589.0 L723.2,587.4 L725.9,585.8 L728.7,584.2 L731.5,582.6 L734.2,581.0 L737.0,579.5 L739.8,577.9 L742.5,576.3 L745.3,574.8 L748.0,573.2 L750.8,571.7 L753.6,570.2 L756.3,568.6 L759.1,567.1 L761.9,565.6 L764.6,564.1 L767.4,562.6 L770.2,561.1 L772.9,559.6 L775.7,558.1 L778.5,556.6 L781.2,555.1 L784.0,553.7 L786.8,552.2 L789.5,550.7 L792.3,549.3 L795.1,547.8 L797.8,546.4 L800.6,544.9 L803.4,543.5 L806.1,542.0 L808.9,540.6 L811.7,539.2 L814.4,537.8 L817.2,536.3 L820.0,534.9 L822.7,533.5 L825.5,532.1 L828.2,530.7 L831.0,529.3 L833.8,527.9 L836.5,526.6 L839.3,525.2 L842.1,523.8 L844.8,522.4 L847.6,521.1 L850.4,519.7 L853.1,518.3 L855.9,517.0 L858.7,515.6 L861.4,514.3 L864.2,513.0 L867.0,511.6 L869.7,510.3 L872.5,508.9 L875.3,507.6 L878.0,506.3 L880.8,505.0 L883.6,503.7 L886.3,502.4 L889.1,501.0 L891.9,499.7 L894.6,498.4 L897.4,497.1 L900.2,495.9 L902.9,494.6 L905.7,493.3 L908.4,492.0 L911.2,490.7 L914.0,489.4 L916.7,488.2 L919.5,486.9 L922.3,485.6 L925.0,484.4 L927.8,483.1 L930.6,481.9 L933.3,480.6 L936.1,479.4 L938.9,478.1 L941.6,476.9 L944.4,475.6 L947.2,474.4 L949.9,473.2 L952.7,472.0 L955.5,470.7 L958.2,469.5 L961.0,468.3 L963.8,467.1 L966.5,465.9 L969.3,464.7 L972.1,463.4 L974.8,462.2 L977.6,461.0 L980.4,459.8 L983.1,458.7 L985.9,457.5 L988.6,456.3 L991.4,455.1 L994.2,453.9 L996.9,452.7 L999.7,451.5 L1002.5,450.4 L1005.2,449.2 L1008.0,448.0 L1010.8,446.9 L1013.5,445.7 L1016.3,444.5 L1019.1,443.4 L1021.8,442.2 L1024.6,441.1 L1027.4,439.9 L1030.1,438.8 L1032.9,437.6 L1035.7,436.5 L1038.4,435.4 L1041.2,434.2 L1044.0,433.1 L1046.7,432.0 L1049.5,430.8 L1052.3,429.7 L1055.0,428.6 L1057.8,427.5 L1060.6,426.3 L1063.3,425.2 L1066.1,424.1 L1068.8,423.0 L1071.6,421.9 L1074.4,420.8 L1077.1,419.7 L1079.9,418.6 L1082.7,417.5 L1085.4,416.4 L1088.2,415.3 L1091.0,414.2 L1093.7,413.1 L1096.5,412.0 L1099.3,410.9 L1102.0,409.9 L1104.8,408.8 L1107.6,407.7 L1110.3,406.6 L1113.1,405.6 L1115.9,404.5 L1118.6,403.4 L1121.4,402.3 L1124.2,401.3 L1126.9,400.2 L1129.7,399.2 L1132.5,398.1 L1135.2,397.0 L1138.0,396.0 L1140.8,394.9 L1143.5,393.9 L1146.3,392.8 L1149.0,391.8 L1151.8,390.7 L1154.6,389.7 L1157.3,388.7 L1160.1,387.6 L1162.9,386.6 L1165.6,385.6 L1168.4,384.5 L1171.2,383.5 L1173.9,382.5 L1176.7,381.4 L1179.5,380.4 L1182.2,379.4 L1185.0,378.4 L1187.8,377.4 L1190.5,376.3 L1193.3,375.3 L1196.1,374.3 L1198.8,373.3 L1201.6,372.3 L1204.4,371.3 L1207.1,370.3 L1209.9,369.3 L1212.7,368.3 L1215.4,367.3 L1218.2,366.3 L1221.0,365.3 L1223.7,364.3 L1226.5,363.3 L1229.2,362.3 L1232.0,361.3 L1234.8,360.4 L1237.5,359.4 L1240.3,358.4 L1243.1,357.4 L1245.8,356.4 L1248.6,355.4 L1251.4,354.5 L1254.1,353.5 L1256.9,352.5 L1259.7,351.6 L1262.4,350.6 L1265.2,349.6 L1268.0,348.7 L1270.7,347.7 L1273.5,346.7 L1276.3,345.8 L1279.0,344.8 L1281.8,343.9 L1284.6,342.9 L1287.3,341.9 L1290.1,341.0 L1292.9,340.0 L1295.6,339.1 L1298.4,338.1 L1301.2,337.2 L1303.9,336.3 L1306.7,335.3 L1309.4,334.4 L1312.2,333.4 L1315.0,332.5 L1317.7,331.6 L1320.5,330.6 L1323.3,329.7 L1326.0,328.8 L1328.8,327.8 L1331.6,326.9 L1334.3,326.0 L1337.1,325.0 L1339.9,324.1 L1342.6,323.2 L1345.4,322.3 L1348.2,321.4 L1350.9,320.4 L1353.7,319.5 L1356.5,318.6 L1359.2,317.7 L1362.0,316.8 L1364.8,315.9 L1367.5,315.0 L1370.3,314.1 L1373.1,313.1 L1375.8,312.2 L1378.6,311.3 L1381.4,310.4 L1384.1,309.5 L1386.9,308.6 L1389.6,307.7 L1392.4,306.8 L1395.2,305.9 L1397.9,305.0 L1400.7,304.2 L1403.5,303.3 L1406.2,302.4 L1409.0,301.5 L1411.8,300.6 L1414.5,299.7 L1417.3,298.8 L1420.1,297.9 L1422.8,297.1 L1425.6,296.2 L1428.4,295.3 L1431.1,294.4 L1433.9,293.5 L1436.7,292.7 L1439.4,291.8 L1442.2,290.9 L1445.0,290.1 L1447.7,289.2 L1450.5,288.3 L1453.3,287.4 L1456.0,286.6 L1458.8,285.7 L1461.6,284.9 L1464.3,284.0 L1467.1,283.1 L1469.8,282.3 L1472.6,281.4 L1475.4,280.6 L1478.1,279.7 L1480.9,278.8 L1483.7,278.0 L1486.4,277.1 L1489.2,276.3 L1492.0,275.4 L1494.7,274.6 L1497.5,273.7 L1500.3,272.9 L1503.0,272.0 L1505.8,271.2 L1508.6,270.4 L1511.3,269.5 L1514.1,268.7 L1516.9,267.8 L1519.6,267.0 L1522.4,266.2 L1525.2,265.3 L1527.9,264.5 L1530.7,263.6 L1533.5,262.8 L1536.2,262.0 L1539.0,261.2 L1541.7,260.3 L1544.5,259.5 L1547.3,258.7 L1550.0,257.8 L1552.8,257.0 L1555.6,256.2 L1558.3,255.4 L1561.1,254.5 L1563.9,253.7 L1566.6,252.9 L1569.4,252.1 L1572.2,251.3 L1574.9,250.5 L1577.7,249.6 L1580.5,248.8 L1583.2,248.0 L1586.0,247.2 L1588.8,246.4 L1591.5,245.6 L1594.3,244.8 L1597.1,244.0 L1599.8,243.2 L1602.6,242.3 L1605.4,241.5 L1608.1,240.7 L1610.9,239.9 L1613.7,239.1 L1616.4,238.3 L1619.2,237.5 L1621.9,236.7 L1624.7,235.9 L1627.5,235.1 L1630.2,234.3 L1633.0,233.6 L1635.8,232.8 L1638.5,232.0 L1641.3,231.2 L1644.1,230.4 L1646.8,229.6 L1649.6,228.8 L1652.4,228.0 L1655.1,227.2 L1657.9,226.4 L1660.7,225.7 L1663.4,224.9 L1666.2,224.1 L1669.0,223.3 L1671.7,222.5 L1674.5,221.8 L1677.3,221.0 L1680.0,220.2 L1682.8,219.4 L1685.6,218.6 L1688.3,217.9 L1691.1,217.1 L1693.9,216.3 L1696.6,215.5 L1699.4,214.8 L1702.1,214.0 L1704.9,213.2 L1707.7,212.5 L1710.4,211.7 L1713.2,210.9 L1716.0,210.2 L1718.7,209.4 L1721.5,208.6 L1724.3,207.9 L1727.0,207.1 L1729.8,206.4 L1732.6,205.6 L1735.3,204.8 L1738.1,204.1 L1740.9,203.3 L1743.6,202.6 L1746.4,201.8 L1749.2,201.0 L1751.9,200.3 L1754.7,199.5 L1757.5,198.8 L1760.2,198.0 L1763.0,197.3 L1765.8,196.5 L1768.5,195.8 L1771.3,195.0 L1774.1,194.3 L1776.8,193.5 L1779.6,192.8 L1782.3,192.1 L1785.1,191.3 L1787.9,190.6 L1790.6,189.8 L1793.4,189.1 L1796.2,188.3 L1798.9,187.6 L1801.7,186.9 L1804.5,186.1 L1807.2,185.4 L1810.0,184.7 L1812.8,183.9 L1815.5,183.2 L1818.3,182.4 L1821.1,181.7 L1823.8,181.0 L1826.6,180.2 L1829.4,179.5 L1832.1,178.8 L1834.9,178.1 L1837.7,177.3 L1840.4,176.6 L1843.2,175.9 L1846.0,175.1 L1848.7,174.4 L1851.5,173.7 L1854.3,173.0 L1857.0,172.3 L1859.8,171.5 L1862.5,170.8 L1865.3,170.1 L1868.1,169.4 L1870.8,168.6 L1873.6,167.9 L1876.4,167.2 L1879.1,166.5 L1881.9,165.8 L1884.7,165.1 L1887.4,164.4 L1890.2,163.6 L1893.0,162.9 L1895.7,162.2 L1898.5,161.5 L1901.3,160.8 L1904.0,160.1 L1906.8,159.4 L1909.6,158.7 L1912.3,158.0 L1915.1,157.2 L1917.9,156.5 L1920.6,155.8 L1923.4,155.1 L1926.2,154.4 L1928.9,153.7 L1931.7,153.0 L1934.5,152.3 L1937.2,151.6 L1940.0,150.9 L1942.7,150.2 L1945.5,149.5 L1948.3,148.8 L1951.0,148.1 L1953.8,147.4 L1956.6,146.7 L1959.3,146.0 L1962.1,145.3 L1964.9,144.6" stroke="#000" stroke-width="9" fill="none" stroke-dasharray="14.5 16" stroke-linecap="round" stroke-linejoin="round"/><path d="M333.8,1158.9 L338.4,1152.8 L343.0,1146.9 L347.6,1141.0 L352.2,1135.3 L356.8,1129.7 L361.4,1124.1 L366.0,1118.7 L370.6,1113.3 L375.2,1108.0 L379.8,1102.9 L384.4,1097.8 L389.0,1092.7 L393.6,1087.8 L398.2,1082.9 L402.8,1078.2 L407.4,1073.4 L412.0,1068.8 L416.6,1064.3 L421.2,1059.8 L425.8,1055.3 L430.4,1051.0 L435.0,1046.7 L439.6,1042.4 L444.2,1038.3 L448.8,1034.2 L453.4,1030.1 L458.0,1026.1 L462.6,1022.2 L467.2,1018.3 L471.8,1014.5 L476.4,1010.7 L481.1,1007.0 L485.7,1003.3 L490.3,999.7 L494.9,996.2 L499.5,992.6 L504.1,989.2 L508.7,985.7 L513.3,982.4 L517.9,979.0 L522.5,975.7 L527.1,972.5 L531.7,969.3 L536.3,966.1 L540.9,963.0 L545.5,959.9 L550.1,956.9 L554.7,953.9 L559.3,950.9 L563.9,947.9 L568.5,945.0 L573.1,942.2 L577.7,939.4 L582.3,936.6 L586.9,933.8 L591.5,931.1 L596.1,928.4 L600.7,925.7 L605.3,923.1 L609.9,920.5 L614.5,917.9 L619.1,915.4 L623.7,912.8 L628.3,910.4 L632.9,907.9 L637.5,905.5 L642.1,903.1 L646.7,900.7 L651.3,898.3 L655.9,896.0 L660.5,893.7 L665.1,891.4 L669.7,889.2 L674.3,887.0 L679.0,884.8 L683.6,882.6 L688.2,880.4 L692.8,878.3 L697.4,876.2 L702.0,874.1 L706.6,872.0 L711.2,870.0 L715.8,868.0 L720.4,866.0 L725.0,864.0 L729.6,862.0 L734.2,860.1 L738.8,858.1 L743.4,856.2 L748.0,854.4 L752.6,852.5 L757.2,850.6 L761.8,848.8 L766.4,847.0 L771.0,845.2 L775.6,843.4 L780.2,841.7 L784.8,839.9 L789.4,838.2 L794.0,836.5 L798.6,834.8 L803.2,833.1 L807.8,831.4 L812.4,829.8 L817.0,828.1 L821.6,826.5 L826.2,824.9 L830.8,823.3 L835.4,821.8 L840.0,820.2 L844.6,818.7 L849.2,817.1 L853.8,815.6 L858.4,814.1 L863.0,812.6 L867.6,811.1 L872.2,809.7 L876.9,808.2 L881.5,806.8 L886.1,805.3 L890.7,803.9 L895.3,802.5 L899.9,801.1 L904.5,799.7 L909.1,798.4 L913.7,797.0 L918.3,795.7 L922.9,794.3 L927.5,793.0 L932.1,791.7 L936.7,790.4 L941.3,789.1 L945.9,787.8 L950.5,786.5 L955.1,785.3 L959.7,784.0 L964.3,782.8 L968.9,781.6 L973.5,780.3 L978.1,779.1 L982.7,777.9 L987.3,776.7 L991.9,775.6 L996.5,774.4 L1001.1,773.2 L1005.7,772.1 L1010.3,770.9 L1014.9,769.8 L1019.5,768.6 L1024.1,767.5 L1028.7,766.4 L1033.3,765.3 L1037.9,764.2 L1042.5,763.1 L1047.1,762.1 L1051.7,761.0 L1056.3,759.9 L1060.9,758.9 L1065.5,757.8 L1070.1,756.8 L1074.8,755.7 L1079.4,754.7 L1084.0,753.7 L1088.6,752.7 L1093.2,751.7 L1097.8,750.7 L1102.4,749.7 L1107.0,748.7 L1111.6,747.8 L1116.2,746.8 L1120.8,745.8 L1125.4,744.9 L1130.0,743.9 L1134.6,743.0 L1139.2,742.1 L1143.8,741.1 L1148.4,740.2 L1153.0,739.3 L1157.6,738.4 L1162.2,737.5 L1166.8,736.6 L1171.4,735.7 L1176.0,734.8 L1180.6,733.9 L1185.2,733.1 L1189.8,732.2 L1194.4,731.3 L1199.0,730.5 L1203.6,729.6 L1208.2,728.8 L1212.8,728.0 L1217.4,727.1 L1222.0,726.3 L1226.6,725.5 L1231.2,724.7 L1235.8,723.9 L1240.4,723.1 L1245.0,722.3 L1249.6,721.5 L1254.2,720.7 L1258.8,719.9 L1263.4,719.1 L1268.0,718.3 L1272.7,717.6 L1277.3,716.8 L1281.9,716.0 L1286.5,715.3 L1291.1,714.5 L1295.7,713.8 L1300.3,713.0 L1304.9,712.3 L1309.5,711.6 L1314.1,710.9 L1318.7,710.1 L1323.3,709.4 L1327.9,708.7 L1332.5,708.0 L1337.1,707.3 L1341.7,706.6 L1346.3,705.9 L1350.9,705.2 L1355.5,704.5 L1360.1,703.8 L1364.7,703.1 L1369.3,702.5 L1373.9,701.8 L1378.5,701.1 L1383.1,700.5 L1387.7,699.8 L1392.3,699.1 L1396.9,698.5 L1401.5,697.8 L1406.1,697.2 L1410.7,696.5 L1415.3,695.9 L1419.9,695.3 L1424.5,694.6 L1429.1,694.0 L1433.7,693.4 L1438.3,692.8 L1442.9,692.2 L1447.5,691.5 L1452.1,690.9 L1456.7,690.3 L1461.3,689.7 L1465.9,689.1 L1470.6,688.5 L1475.2,687.9 L1479.8,687.3 L1484.4,686.8 L1489.0,686.2 L1493.6,685.6 L1498.2,685.0 L1502.8,684.4 L1507.4,683.9 L1512.0,683.3 L1516.6,682.7 L1521.2,682.2 L1525.8,681.6 L1530.4,681.1 L1535.0,680.5 L1539.6,680.0 L1544.2,679.4 L1548.8,678.9 L1553.4,678.3 L1558.0,677.8 L1562.6,677.3 L1567.2,676.7 L1571.8,676.2 L1576.4,675.7 L1581.0,675.2 L1585.6,674.6 L1590.2,674.1 L1594.8,673.6 L1599.4,673.1 L1604.0,672.6 L1608.6,672.1 L1613.2,671.6 L1617.8,671.1 L1622.4,670.6 L1627.0,670.1 L1631.6,669.6 L1636.2,669.1 L1640.8,668.6 L1645.4,668.1 L1650.0,667.6 L1654.6,667.1 L1659.2,666.7 L1663.8,666.2 L1668.5,665.7 L1673.1,665.2 L1677.7,664.8 L1682.3,664.3 L1686.9,663.8 L1691.5,663.4 L1696.1,662.9 L1700.7,662.4 L1705.3,662.0 L1709.9,661.5 L1714.5,661.1 L1719.1,660.6 L1723.7,660.2 L1728.3,659.7 L1732.9,659.3 L1737.5,658.8 L1742.1,658.4 L1746.7,658.0 L1751.3,657.5 L1755.9,657.1 L1760.5,656.7 L1765.1,656.2 L1769.7,655.8 L1774.3,655.4 L1778.9,655.0 L1783.5,654.5 L1788.1,654.1 L1792.7,653.7 L1797.3,653.3 L1801.9,652.9 L1806.5,652.5 L1811.1,652.1 L1815.7,651.6 L1820.3,651.2 L1824.9,650.8 L1829.5,650.4 L1834.1,650.0 L1838.7,649.6 L1843.3,649.2 L1847.9,648.8 L1852.5,648.5 L1857.1,648.1 L1861.7,647.7 L1866.4,647.3 L1871.0,646.9 L1875.6,646.5 L1880.2,646.1 L1884.8,645.7 L1889.4,645.4 L1894.0,645.0 L1898.6,644.6 L1903.2,644.2 L1907.8,643.9 L1912.4,643.5 L1917.0,643.1 L1921.6,642.8 L1926.2,642.4 L1930.8,642.0 L1935.4,641.7 L1940.0,641.3 L1944.6,640.9 L1949.2,640.6 L1953.8,640.2 L1958.4,639.9 L1963.0,639.5 L1967.6,639.2 L1972.2,638.8 L1976.8,638.5 L1981.4,638.1 L1986.0,637.8 L1990.6,637.4 L1995.2,637.1 L1999.8,636.7 L2004.4,636.4 L2009.0,636.1 L2013.6,635.7 L2018.2,635.4 L2022.8,635.1 L2027.4,634.7 L2032.0,634.4 L2036.6,634.1 L2041.2,633.7 L2045.8,633.4 L2050.4,633.1 L2055.0,632.8 L2059.6,632.4 L2064.3,632.1 L2068.9,631.8 L2073.5,631.5 L2078.1,631.2 L2082.7,630.8 L2087.3,630.5 L2091.9,630.2 L2096.5,629.9 L2101.1,629.6 L2105.7,629.3 L2110.3,629.0 L2114.9,628.6 L2119.5,628.3 L2124.1,628.0 L2128.7,627.7 L2133.3,627.4 L2137.9,627.1 L2142.5,626.8 L2147.1,626.5 L2151.7,626.2 L2156.3,625.9 L2160.9,625.6 L2165.5,625.3 L2170.1,625.0 L2174.7,624.8" stroke="#5B9BD5" stroke-width="9" fill="none" stroke-dasharray="14.5 16" stroke-linecap="round" stroke-linejoin="round"/><path d="M333.8,1114.7 L338.4,1108.5 L343.0,1102.7 L347.6,1097.3 L352.2,1092.2 L356.8,1087.3 L361.4,1082.7 L366.1,1078.3 L370.7,1074.0 L375.3,1069.9 L379.9,1066.0 L384.5,1062.1 L389.1,1058.4 L393.7,1054.8 L398.3,1051.3 L402.9,1047.9 L407.6,1044.5 L412.2,1041.3 L416.8,1038.1 L421.4,1035.0 L426.0,1031.9 L430.6,1028.9 L435.2,1026.0 L439.8,1023.1 L444.4,1020.3 L449.1,1017.5 L453.7,1014.8 L458.3,1012.1 L462.9,1009.4 L467.5,1006.8 L472.1,1004.3 L476.7,1001.7 L481.3,999.2 L485.9,996.8 L490.6,994.4 L495.2,992.0 L499.8,989.6 L504.4,987.3 L509.0,985.0 L513.6,982.7 L518.2,980.4 L522.8,978.2 L527.4,976.0 L532.1,973.8 L536.7,971.7 L541.3,969.5 L545.9,967.4 L550.5,965.3 L555.1,963.2 L559.7,961.2 L564.3,959.2 L568.9,957.2 L573.6,955.2 L578.2,953.2 L582.8,951.2 L587.4,949.3 L592.0,947.4 L596.6,945.5 L601.2,943.6 L605.8,941.7 L610.4,939.8 L615.1,938.0 L619.7,936.1 L624.3,934.3 L628.9,932.5 L633.5,930.7 L638.1,929.0 L642.7,927.2 L647.3,925.4 L651.9,923.7 L656.6,922.0 L661.2,920.3 L665.8,918.6 L670.4,916.9 L675.0,915.2 L679.6,913.5 L684.2,911.8 L688.8,910.2 L693.4,908.6 L698.1,906.9 L702.7,905.3 L707.3,903.7 L711.9,902.1 L716.5,900.5 L721.1,898.9 L725.7,897.4 L730.3,895.8 L734.9,894.3 L739.6,892.7 L744.2,891.2 L748.8,889.6 L753.4,888.1 L758.0,886.6 L762.6,885.1 L767.2,883.6 L771.8,882.1 L776.4,880.7 L781.1,879.2 L785.7,877.7 L790.3,876.3 L794.9,874.8 L799.5,873.4 L804.1,871.9 L808.7,870.5 L813.3,869.1 L817.9,867.7 L822.6,866.3 L827.2,864.9 L831.8,863.5 L836.4,862.1 L841.0,860.7 L845.6,859.3 L850.2,858.0 L854.8,856.6 L859.4,855.2 L864.1,853.9 L868.7,852.5 L873.3,851.2 L877.9,849.9 L882.5,848.5 L887.1,847.2 L891.7,845.9 L896.3,844.6 L900.9,843.3 L905.6,842.0 L910.2,840.7 L914.8,839.4 L919.4,838.1 L924.0,836.8 L928.6,835.5 L933.2,834.3 L937.8,833.0 L942.5,831.7 L947.1,830.5 L951.7,829.2 L956.3,828.0 L960.9,826.7 L965.5,825.5 L970.1,824.3 L974.7,823.0 L979.3,821.8 L984.0,820.6 L988.6,819.4 L993.2,818.2 L997.8,817.0 L1002.4,815.8 L1007.0,814.6 L1011.6,813.4 L1016.2,812.2 L1020.8,811.0 L1025.5,809.8 L1030.1,808.6 L1034.7,807.5 L1039.3,806.3 L1043.9,805.1 L1048.5,804.0 L1053.1,802.8 L1057.7,801.7 L1062.3,800.5 L1067.0,799.4 L1071.6,798.2 L1076.2,797.1 L1080.8,795.9 L1085.4,794.8 L1090.0,793.7 L1094.6,792.5 L1099.2,791.4 L1103.8,790.3 L1108.5,789.2 L1113.1,788.1 L1117.7,787.0 L1122.3,785.9 L1126.9,784.8 L1131.5,783.7 L1136.1,782.6 L1140.7,781.5 L1145.3,780.4 L1150.0,779.3 L1154.6,778.2 L1159.2,777.1 L1163.8,776.1 L1168.4,775.0 L1173.0,773.9 L1177.6,772.8 L1182.2,771.8 L1186.8,770.7 L1191.5,769.7 L1196.1,768.6 L1200.7,767.5 L1205.3,766.5 L1209.9,765.4 L1214.5,764.4 L1219.1,763.4 L1223.7,762.3 L1228.3,761.3 L1233.0,760.2 L1237.6,759.2 L1242.2,758.2 L1246.8,757.2 L1251.4,756.1 L1256.0,755.1 L1260.6,754.1 L1265.2,753.1 L1269.8,752.1 L1274.5,751.1 L1279.1,750.0 L1283.7,749.0 L1288.3,748.0 L1292.9,747.0 L1297.5,746.0 L1302.1,745.0 L1306.7,744.1 L1311.3,743.1 L1316.0,742.1 L1320.6,741.1 L1325.2,740.1 L1329.8,739.1 L1334.4,738.1 L1339.0,737.2 L1343.6,736.2 L1348.2,735.2 L1352.8,734.2 L1357.5,733.3 L1362.1,732.3 L1366.7,731.4 L1371.3,730.4 L1375.9,729.4 L1380.5,728.5 L1385.1,727.5 L1389.7,726.6 L1394.3,725.6 L1399.0,724.7 L1403.6,723.7 L1408.2,722.8 L1412.8,721.8 L1417.4,720.9 L1422.0,720.0 L1426.6,719.0 L1431.2,718.1 L1435.8,717.2 L1440.5,716.2 L1445.1,715.3 L1449.7,714.4 L1454.3,713.5 L1458.9,712.5 L1463.5,711.6 L1468.1,710.7 L1472.7,709.8 L1477.3,708.9 L1482.0,707.9 L1486.6,707.0 L1491.2,706.1 L1495.8,705.2 L1500.4,704.3 L1505.0,703.4 L1509.6,702.5 L1514.2,701.6 L1518.8,700.7 L1523.5,699.8 L1528.1,698.9 L1532.7,698.0 L1537.3,697.1 L1541.9,696.3 L1546.5,695.4 L1551.1,694.5 L1555.7,693.6 L1560.3,692.7 L1565.0,691.8 L1569.6,691.0 L1574.2,690.1 L1578.8,689.2 L1583.4,688.3 L1588.0,687.5 L1592.6,686.6 L1597.2,685.7 L1601.8,684.9 L1606.5,684.0 L1611.1,683.1 L1615.7,682.3 L1620.3,681.4 L1624.9,680.5 L1629.5,679.7 L1634.1,678.8 L1638.7,678.0 L1643.3,677.1 L1648.0,676.3 L1652.6,675.4 L1657.2,674.6 L1661.8,673.7 L1666.4,672.9 L1671.0,672.0 L1675.6,671.2 L1680.2,670.4 L1684.8,669.5 L1689.5,668.7 L1694.1,667.9 L1698.7,667.0 L1703.3,666.2 L1707.9,665.4 L1712.5,664.5 L1717.1,663.7 L1721.7,662.9 L1726.3,662.0 L1731.0,661.2 L1735.6,660.4 L1740.2,659.6 L1744.8,658.7 L1749.4,657.9 L1754.0,657.1 L1758.6,656.3 L1763.2,655.5 L1767.8,654.7 L1772.5,653.9 L1777.1,653.0 L1781.7,652.2 L1786.3,651.4 L1790.9,650.6 L1795.5,649.8 L1800.1,649.0 L1804.7,648.2 L1809.3,647.4 L1814.0,646.6 L1818.6,645.8 L1823.2,645.0 L1827.8,644.2 L1832.4,643.4 L1837.0,642.6 L1841.6,641.8 L1846.2,641.0 L1850.8,640.2 L1855.5,639.5 L1860.1,638.7 L1864.7,637.9 L1869.3,637.1 L1873.9,636.3 L1878.5,635.5 L1883.1,634.8 L1887.7,634.0 L1892.3,633.2 L1897.0,632.4 L1901.6,631.6 L1906.2,630.9 L1910.8,630.1 L1915.4,629.3 L1920.0,628.5 L1924.6,627.8 L1929.2,627.0 L1933.8,626.2 L1938.5,625.5 L1943.1,624.7 L1947.7,623.9 L1952.3,623.2 L1956.9,622.4 L1961.5,621.6 L1966.1,620.9 L1970.7,620.1 L1975.3,619.4 L1980.0,618.6 L1984.6,617.9 L1989.2,617.1 L1993.8,616.3 L1998.4,615.6 L2003.0,614.8 L2007.6,614.1 L2012.2,613.3 L2016.8,612.6 L2021.5,611.8 L2026.1,611.1 L2030.7,610.3 L2035.3,609.6 L2039.9,608.9 L2044.5,608.1 L2049.1,607.4 L2053.7,606.6 L2058.4,605.9 L2063.0,605.2 L2067.6,604.4 L2072.2,603.7 L2076.8,602.9 L2081.4,602.2 L2086.0,601.5 L2090.6,600.7 L2095.2,600.0 L2099.9,599.3 L2104.5,598.6 L2109.1,597.8 L2113.7,597.1 L2118.3,596.4 L2122.9,595.6 L2127.5,594.9 L2132.1,594.2 L2136.7,593.5 L2141.4,592.8 L2146.0,592.0 L2150.6,591.3 L2155.2,590.6 L2159.8,589.9 L2164.4,589.2 L2169.0,588.4 L2173.6,587.7 L2178.2,587.0" stroke="#000" stroke-width="9" fill="none" stroke-dasharray="14.5 16" stroke-linecap="round" stroke-linejoin="round"/><rect x="303" y="84" width="5" height="1117" fill="#000"/><rect x="303" y="1196" width="1931" height="5" fill="#000"/><rect x="303" y="1196" width="26" height="5" fill="#000"/><rect x="303" y="1072.4" width="26" height="5" fill="#000"/><rect x="303" y="948.9" width="26" height="5" fill="#000"/><rect x="303" y="825.3" width="26" height="5" fill="#000"/><rect x="303" y="701.8" width="26" height="5" fill="#000"/><rect x="303" y="578.2" width="26" height="5" fill="#000"/><rect x="303" y="454.6" width="26" height="5" fill="#000"/><rect x="303" y="331.1" width="26" height="5" fill="#000"/><rect x="303" y="207.5" width="26" height="5" fill="#000"/><rect x="303" y="84" width="26" height="5" fill="#000"/><rect x="303" y="1174" width="5" height="27" fill="#000"/><rect x="624.3" y="1174" width="5" height="27" fill="#000"/><rect x="945.7" y="1174" width="5" height="27" fill="#000"/><rect x="1267" y="1174" width="5" height="27" fill="#000"/><rect x="1588.3" y="1174" width="5" height="27" fill="#000"/><rect x="1909.7" y="1174" width="5" height="27" fill="#000"/><rect x="2231" y="1174" width="5" height="27" fill="#000"/><circle cx="304.9" cy="1061.9" r="24.25" fill="#fff" stroke="#000" stroke-width="26.5"/><circle cx="304.9" cy="1129.6" r="24.25" fill="#fff" stroke="#000" stroke-width="26.5"/><circle cx="419.7" cy="1009.6" r="24.25" fill="#fff" stroke="#000" stroke-width="26.5"/><circle cx="465" cy="825" r="24.25" fill="#fff" stroke="#000" stroke-width="26.5"/><circle cx="551.8" cy="650.8" r="24.25" fill="#fff" stroke="#000" stroke-width="26.5"/><circle cx="710.9" cy="613.4" r="24.25" fill="#fff" stroke="#000" stroke-width="26.5"/><circle cx="887.5" cy="313.5" r="24.25" fill="#fff" stroke="#000" stroke-width="26.5"/><circle cx="1271.8" cy="268.2" r="24.25" fill="#fff" stroke="#000" stroke-width="26.5"/><circle cx="1607" cy="290.5" r="24.25" fill="#fff" stroke="#000" stroke-width="26.5"/><circle cx="1965" cy="230.7" r="24.25" fill="#fff" stroke="#000" stroke-width="26.5"/><path d="M337.8 1151.3L369.5 1183L369.5 1191L337.8 1222.7L329.8 1222.7L298.1 1191L298.1 1183L329.8 1151.3ZM333.8 1168L352.8 1187L333.8 1206L314.8 1187Z" fill="#3B3838" fill-rule="evenodd"/><path d="M366 1136.3L397.7 1168L397.7 1176L366 1207.7L358 1207.7L326.3 1176L326.3 1168L358 1136.3ZM362 1153L381 1172L362 1191L343 1172Z" fill="#3B3838" fill-rule="evenodd"/><path d="M502.3 967.3L534 999L534 1007L502.3 1038.7L494.3 1038.7L462.6 1007L462.6 999L494.3 967.3ZM498.3 984L517.3 1003L498.3 1022L479.3 1003Z" fill="#3B3838" fill-rule="evenodd"/><path d="M643.6 870.8L675.3 902.5L675.3 910.5L643.6 942.2L635.6 942.2L603.9 910.5L603.9 902.5L635.6 870.8ZM639.6 887.5L658.6 906.5L639.6 925.5L620.6 906.5Z" fill="#3B3838" fill-rule="evenodd"/><path d="M802.4 748.1L834.1 779.8L834.1 787.8L802.4 819.5L794.4 819.5L762.7 787.8L762.7 779.8L794.4 748.1ZM798.4 764.8L817.4 783.8L798.4 802.8L779.4 783.8Z" fill="#3B3838" fill-rule="evenodd"/><path d="M1135.5 704L1167.2 735.7L1167.2 743.7L1135.5 775.4L1127.5 775.4L1095.8 743.7L1095.8 735.7L1127.5 704ZM1131.5 720.7L1150.5 739.7L1131.5 758.7L1112.5 739.7Z" fill="#3B3838" fill-rule="evenodd"/><path d="M1771.7 562.3L1803.4 594L1803.4 602L1771.7 633.7L1763.7 633.7L1732 602L1732 594L1763.7 562.3ZM1767.7 579L1786.7 598L1767.7 617L1748.7 598Z" fill="#3B3838" fill-rule="evenodd"/><path d="M2178.7 604.3L2210.4 636L2210.4 644L2178.7 675.7L2170.7 675.7L2139 644L2139 636L2170.7 604.3ZM2174.7 621L2193.7 640L2174.7 659L2155.7 640Z" fill="#3B3838" fill-rule="evenodd"/><text x="234.5" y="1221.5" font-family="Liberation Sans, Arial, sans-serif" font-size="71.5" text-anchor="end">0</text><text x="234.5" y="1097.9" font-family="Liberation Sans, Arial, sans-serif" font-size="71.5" text-anchor="end">10</text><text x="234.5" y="974.4" font-family="Liberation Sans, Arial, sans-serif" font-size="71.5" text-anchor="end">20</text><text x="234.5" y="850.8" font-family="Liberation Sans, Arial, sans-serif" font-size="71.5" text-anchor="end">30</text><text x="234.5" y="727.3" font-family="Liberation Sans, Arial, sans-serif" font-size="71.5" text-anchor="end">40</text><text x="234.5" y="603.7" font-family="Liberation Sans, Arial, sans-serif" font-size="71.5" text-anchor="end">50</text><text x="234.5" y="480.1" font-family="Liberation Sans, Arial, sans-serif" font-size="71.5" text-anchor="end">60</text><text x="234.5" y="356.6" font-family="Liberation Sans, Arial, sans-serif" font-size="71.5" text-anchor="end">70</text><text x="234.5" y="233" font-family="Liberation Sans, Arial, sans-serif" font-size="71.5" text-anchor="end">80</text><text x="234.5" y="109.5" font-family="Liberation Sans, Arial, sans-serif" font-size="71.5" text-anchor="end">90</text><text x="305.5" y="1319" font-family="Liberation Sans, Arial, sans-serif" font-size="71.5" text-anchor="middle">0</text><text x="626.8" y="1319" font-family="Liberation Sans, Arial, sans-serif" font-size="71.5" text-anchor="middle">50</text><text x="948.2" y="1319" font-family="Liberation Sans, Arial, sans-serif" font-size="71.5" text-anchor="middle">100</text><text x="1269.5" y="1319" font-family="Liberation Sans, Arial, sans-serif" font-size="71.5" text-anchor="middle">150</text><text x="1590.8" y="1319" font-family="Liberation Sans, Arial, sans-serif" font-size="71.5" text-anchor="middle">200</text><text x="1912.2" y="1319" font-family="Liberation Sans, Arial, sans-serif" font-size="71.5" text-anchor="middle">250</text><text x="2233.5" y="1319" font-family="Liberation Sans, Arial, sans-serif" font-size="71.5" text-anchor="middle">300</text><text transform="translate(109.5 642.5) rotate(-90)" font-family="Liberation Sans, Arial, sans-serif" font-size="70" text-anchor="middle">q (mg/g)</text><text transform="translate(1127 1434.5) scale(0.82 1)" font-family="Liberation Sans, Arial, sans-serif" font-size="68">C</text><text x="1167" y="1452" font-family="Liberation Sans, Arial, sans-serif" font-size="45">e</text><text transform="translate(1210.5 1434.5) scale(1.018 1)" font-family="Liberation Sans, Arial, sans-serif" font-size="68">(mg/L)</text><circle cx="1802" cy="735" r="12" fill="#fff" stroke="#000" stroke-width="13"/><path d="M1806.7 835L1821.9 850.2L1821.9 857.6L1806.7 872.8L1799.3 872.8L1784.1 857.6L1784.1 850.2L1799.3 835Z" fill="#3B3838"/><rect x="1801.8" y="853" width="2.4" height="1.6" fill="#fff"/><path d="M1696.5 970H1908" stroke="#5B9BD5" stroke-width="9" stroke-linecap="round" stroke-dasharray="16.5 16.9"/><path d="M1788 970h26M1801 957v25" stroke="#95B3D7" stroke-width="1"/><path d="M1696.5 1087.5H1908" stroke="#000" stroke-width="9" stroke-linecap="round" stroke-dasharray="16.5 16.9"/><text transform="translate(1930.2 747.8) scale(0.943 1)" font-family="Liberation Sans, Arial, sans-serif" font-size="39">ChiFer(III)</text><text transform="translate(1930.2 866) scale(0.78 1)" font-family="Liberation Sans, Arial, sans-serif" font-size="39">CS</text><text x="1931" y="983" font-family="Liberation Sans, Arial, sans-serif" font-size="39">Langmuir fit line</text><text x="1931" y="1099" font-family="Liberation Sans, Arial, sans-serif" font-size="39">Freundlich fit line</text></svg></body></html>
